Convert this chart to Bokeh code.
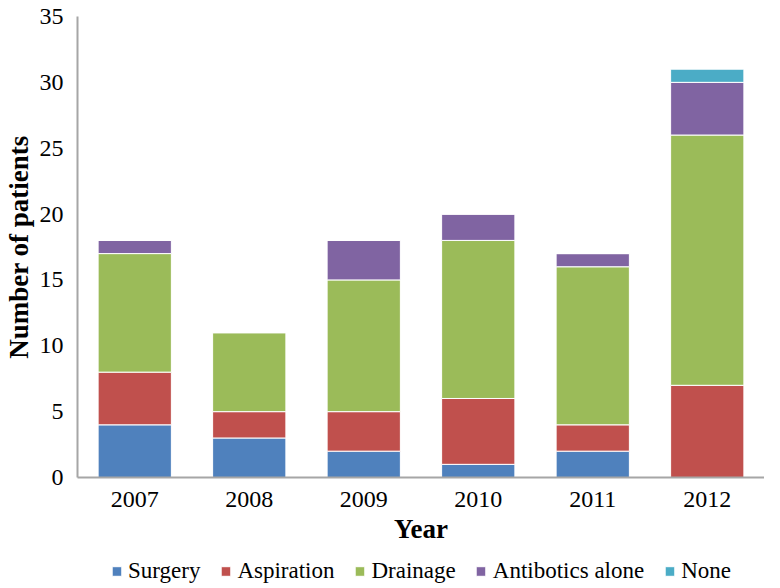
from bokeh.plotting import figure
from bokeh.models import Range1d, FactorRange, Legend, LegendItem
from bokeh.layouts import column
from bokeh.embed import file_html
from bokeh.resources import INLINE

years = ["2007", "2008", "2009", "2010", "2011", "2012"]
surgery = [4, 3, 2, 1, 2, 0]
aspiration = [4, 2, 3, 5, 2, 7]
drainage = [9, 6, 10, 12, 12, 19]
antibiotics = [1, 0, 3, 2, 1, 4]
none_ = [0, 0, 0, 0, 0, 1]

series = ["Surgery", "Aspiration", "Drainage", "Antibotics alone", "None"]
colors = ["#4F81BD", "#C0504D", "#9BBB59", "#8064A2", "#4BACC6"]
yticks = [0, 5, 10, 15, 20, 25, 30, 35]

data = {"year": years, "Surgery": surgery, "Aspiration": aspiration,
        "Drainage": drainage, "Antibotics alone": antibiotics, "None": none_}

FONT = "Liberation Serif"

p = figure(x_range=FactorRange(*years, range_padding=0), y_range=Range1d(0, 35),
           width=764, height=548, output_backend="svg", toolbar_location=None,
           min_border_left=66, min_border_top=16, min_border_right=0,
           min_border_bottom=71)

p.vbar_stack(series, x="year", width=0.64, source=data, color=colors,
             line_color="white", line_width=1)

p.xgrid.visible = False
p.ygrid.visible = False
p.outline_line_color = None

p.yaxis.ticker = yticks
for ax in (p.xaxis[0], p.yaxis[0]):
    ax.major_tick_line_color = None
    ax.minor_tick_line_color = None
    ax.axis_line_color = "#A6A6A6"
    ax.axis_line_width = 2
    ax.major_label_text_font = FONT
    ax.major_label_text_font_size = "24px"
    ax.major_label_text_color = "#000000"
    ax.axis_label_text_font = FONT
    ax.axis_label_text_font_size = "27px"
    ax.axis_label_text_font_style = "bold"
    ax.axis_label_text_color = "#000000"

p.xaxis.axis_label = "Year"
p.yaxis.axis_label = "Number of patients"
p.xaxis.major_label_standoff = 8
p.xaxis.axis_label_standoff = 4
p.yaxis.major_label_standoff = 8
p.yaxis.axis_label_standoff = 3

# legend strip: same stacked bars, drawn out of view, only the legend shows
lg = figure(x_range=FactorRange(*years, range_padding=0), y_range=Range1d(100, 101),
            width=764, height=36, output_backend="svg", toolbar_location=None,
            x_axis_location=None, y_axis_location=None,
            min_border_left=0, min_border_right=0, min_border_top=0,
            min_border_bottom=0)
lg.xgrid.visible = False
lg.ygrid.visible = False
lg.outline_line_color = None
lrs = lg.vbar_stack(series, x="year", width=0.64, source=data, color=colors,
                    line_color="white", line_width=1)

items = [LegendItem(label=s, renderers=[r]) for s, r in zip(series, lrs)]
legend = Legend(items=items, orientation="horizontal", location="bottom_center",
                label_text_font=FONT, label_text_font_size="23px",
                label_text_color="#000000", label_height=24,
                glyph_width=12, glyph_height=12, label_standoff=6, spacing=19,
                padding=0, margin=0, border_line_color=None,
                background_fill_alpha=0)
lg.add_layout(legend, "center")

open("out.html", "w").write(file_html(column(p, lg, spacing=0), INLINE))
